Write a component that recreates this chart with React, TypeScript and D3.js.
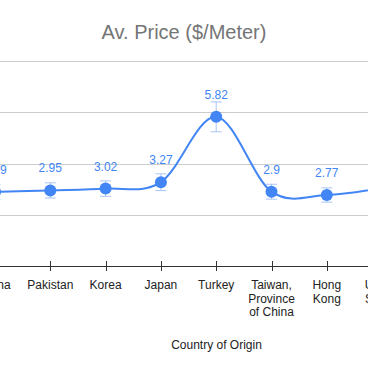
import React from "react";
import * as d3 from "d3";

const countries = ["China", "Pakistan", "Korea", "Japan", "Turkey", "Taiwan, Province of China", "Hong Kong", "United States"];
const prices = [2.89, 2.95, 3.02, 3.27, 5.82, 2.9, 2.77, 3.05];
const tickLabels = [["China"], ["Pakistan"], ["Korea"], ["Japan"], ["Turkey"], ["Taiwan,", "Province", "of China"], ["Hong", "Kong"], ["United", "States"]];
const yTicks = [0, 2, 4, 6, 8];
const ERR = 0.1; // error bars: 10% of value

const W = 368;
const H = 371;
const blue = "#4285f4";
const font = "Arial, 'Liberation Sans', sans-serif";

const App = () => {
  // plot is wider than the picture, it gets cut at both sides
  const step = 55.3;
  const x = d3
    .scalePoint<string>()
    .domain(countries)
    .range([-5, -5 + step * (countries.length - 1)]);
  const y = d3.scaleLinear().domain([0, 8]).range([266, 61]);

  const line = d3
    .line<number>()
    .x((d, i) => x(countries[i]) as number)
    .y(d => y(d))
    .curve(d3.curveCardinal.tension(0));

  return (
    <svg width={W} height={H} style={{ position: "fixed", left: 0, top: 0, background: "#fff" }} fontFamily={font}>
      <text x={184} y={39} textAnchor="middle" fontSize={20} fill="#757575">
        Av. Price ($/Meter)
      </text>

      {yTicks.slice(1).map(t => (
        <line key={t} x1={0} x2={W} y1={Math.round(y(t)) + 0.5} y2={Math.round(y(t)) + 0.5} stroke="#cccccc" />
      ))}

      <line x1={0} x2={W} y1={266.5} y2={266.5} stroke="#333" />
      {countries.map((c, i) => {
        const cx = Math.round(x(c) as number) + 0.5;
        return (
          <g key={c}>
            <line x1={cx} x2={cx} y1={261} y2={271} stroke="#333" />
            <text x={x(c)} y={289} textAnchor="middle" fontSize={12} fill="#222">
              {tickLabels[i].map((l, j) => (
                <tspan key={j} x={x(c)} dy={j === 0 ? 0 : 13.5}>
                  {l}
                </tspan>
              ))}
            </text>
          </g>
        );
      })}

      <text x={216.5} y={349} textAnchor="middle" fontSize={12} fill="#222">
        Country of Origin
      </text>

      <path d={line(prices) || ""} fill="none" stroke={blue} strokeWidth={2} />

      {prices.map((v, i) => {
        const cx = x(countries[i]) as number;
        const top = y(v * (1 + ERR));
        const bot = y(v * (1 - ERR));
        return (
          <g key={i}>
            <g stroke="#a8c5f7" strokeWidth={1}>
              <line x1={cx} x2={cx} y1={top} y2={bot} />
              <line x1={cx - 5.5} x2={cx + 5.5} y1={top} y2={top} />
              <line x1={cx - 5.5} x2={cx + 5.5} y1={bot} y2={bot} />
            </g>
            <circle cx={cx} cy={y(v)} r={6} fill={blue} />
            <text x={cx} y={y(v) - 18} textAnchor="middle" fontSize={12} fill={blue}>
              {v}
            </text>
          </g>
        );
      })}
    </svg>
  );
};

export default App;
